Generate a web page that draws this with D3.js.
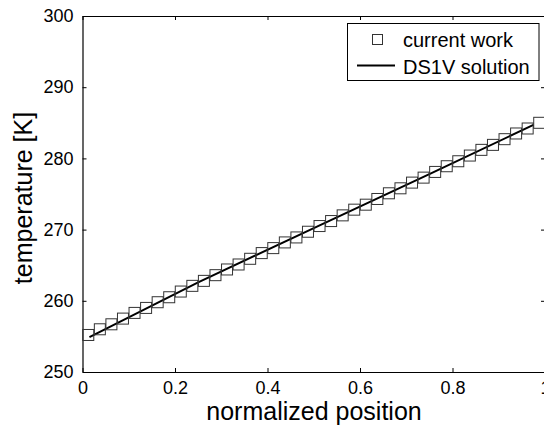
<!DOCTYPE html>
<html>
<head>
<meta charset="utf-8">
<script src="https://cdn.jsdelivr.net/npm/d3@7"></script>
<style>
  body { margin: 0; background: #fff; }
  text { font-family: "Liberation Sans", Arial, sans-serif; fill: #000; }
</style>
</head>
<body>
<div id="chart"></div>
<script>
// Data
const markerX = [0.0125, 0.0375, 0.0625, 0.0875, 0.1125, 0.1375, 0.1625, 0.1875, 0.2125, 0.2375,
  0.2625, 0.2875, 0.3125, 0.3375, 0.3625, 0.3875, 0.4125, 0.4375, 0.4625, 0.4875,
  0.5125, 0.5375, 0.5625, 0.5875, 0.6125, 0.6375, 0.6625, 0.6875, 0.7125, 0.7375,
  0.7625, 0.7875, 0.8125, 0.8375, 0.8625, 0.8875, 0.9125, 0.9375, 0.9625, 0.9875]
const markerT = [255.2, 256.0, 256.7, 257.5, 258.3, 259.0, 259.8, 260.5, 261.3, 262.1,
  262.8, 263.6, 264.4, 265.1, 265.9, 266.7, 267.4, 268.2, 268.9, 269.7,
  270.5, 271.2, 272.0, 272.8, 273.5, 274.3, 275.1, 275.8, 276.6, 277.3,
  278.1, 278.9, 279.6, 280.4, 281.2, 281.9, 282.7, 283.5, 284.2, 285.0]
const lineX = [0.015, 0.25, 0.5, 0.75, 0.975]
const lineT = [254.9, 262.6, 270.2, 277.8, 284.7]
const xTicks = [0, 0.2, 0.4, 0.6, 0.8, 1]
const yTicks = [250, 260, 270, 280, 290, 300]
const legendLabels = ["current work", "DS1V solution"]

// Dimensions
let dimensions = {
  width: 544,
  height: 426,
  left: 82.5,
  right: 545,
  top: 16,
  bottom: 372
}

const svg = d3.select('#chart')
  .append("svg")
  .attr("width", dimensions.width)
  .attr("height", dimensions.height)

// Scales
const xScale = d3.scaleLinear()
  .domain([0, 1])
  .range([dimensions.left, dimensions.right])

const yScale = d3.scaleLinear()
  .domain([250, 300])
  .range([dimensions.bottom, dimensions.top])

// Axes (ticks inside, mirrored like matlab)
const tick = 4
const fmt = d => d3.format("~g")(d)

const xAxisGroup = svg.append("g")
  .attr("transform", `translate(0, ${dimensions.bottom})`)
  .call(d3.axisBottom(xScale).tickValues(xTicks).tickSizeInner(-tick).tickSizeOuter(0).tickPadding(18).tickFormat(fmt))
const yAxisGroup = svg.append("g")
  .attr("transform", `translate(${dimensions.left}, 0)`)
  .call(d3.axisLeft(yScale).tickValues(yTicks).tickSizeInner(-tick).tickSizeOuter(0).tickPadding(9).tickFormat(fmt))
svg.append("g")
  .attr("transform", `translate(0, ${dimensions.top})`)
  .call(d3.axisTop(xScale).tickValues(xTicks).tickSizeInner(-tick).tickSizeOuter(0).tickFormat(""))
svg.append("g")
  .attr("transform", `translate(${dimensions.right}, 0)`)
  .call(d3.axisRight(yScale).tickValues(yTicks).tickSizeInner(-tick).tickSizeOuter(0).tickFormat(""))

svg.selectAll(".domain").attr("stroke", "#000").attr("stroke-width", 1.2)
svg.selectAll(".tick line").attr("stroke", "#000")
xAxisGroup.selectAll("text").style("font-size", "18px").attr("dy", "0")
  .attr("y", 22)
yAxisGroup.selectAll("text").style("font-size", "18px")

// Axis labels
svg.append("text")
  .attr("x", 314)
  .attr("y", 420)
  .attr("text-anchor", "middle")
  .style("font-size", "25px")
  .text("normalized position")

svg.append("text")
  .attr("transform", "translate(32, 198) rotate(-90)")
  .attr("text-anchor", "middle")
  .style("font-size", "25px")
  .text("temperature [K]")

// Line
const line = d3.line()
  .x((d, i) => xScale(lineX[i]))
  .y(d => yScale(d))

svg.append("path")
  .datum(lineT)
  .attr("d", line)
  .attr("fill", "none")
  .attr("stroke", "#000")
  .attr("stroke-width", 2)

// Markers
const size = 11
svg.selectAll("rect.marker")
  .data(markerT)
  .join("rect")
  .attr("class", "marker")
  .attr("x", (d, i) => xScale(markerX[i]) - size / 2)
  .attr("y", d => yScale(d) - size / 2)
  .attr("width", size)
  .attr("height", size)
  .attr("fill", "none")
  .attr("stroke", "#333")
  .attr("stroke-width", 1)

// Legend
const legend = svg.append("g")
legend.append("rect")
  .attr("x", 347.5)
  .attr("y", 23.5)
  .attr("width", 191.5)
  .attr("height", 57)
  .attr("fill", "#fff")
  .attr("stroke", "#000")
  .attr("stroke-width", 1)
legend.append("rect")
  .attr("x", 372.5)
  .attr("y", 34.5)
  .attr("width", 10)
  .attr("height", 10)
  .attr("fill", "none")
  .attr("stroke", "#333")
legend.append("line")
  .attr("x1", 357)
  .attr("x2", 395)
  .attr("y1", 65.5)
  .attr("y2", 65.5)
  .attr("stroke", "#000")
  .attr("stroke-width", 2)
legend.selectAll("text.lab")
  .data(legendLabels)
  .join("text")
  .attr("class", "lab")
  .attr("x", 403)
  .attr("y", (d, i) => 46.5 + i * 27.5)
  .style("font-size", "20px")
  .text(d => d)
</script>
</body>
</html>
